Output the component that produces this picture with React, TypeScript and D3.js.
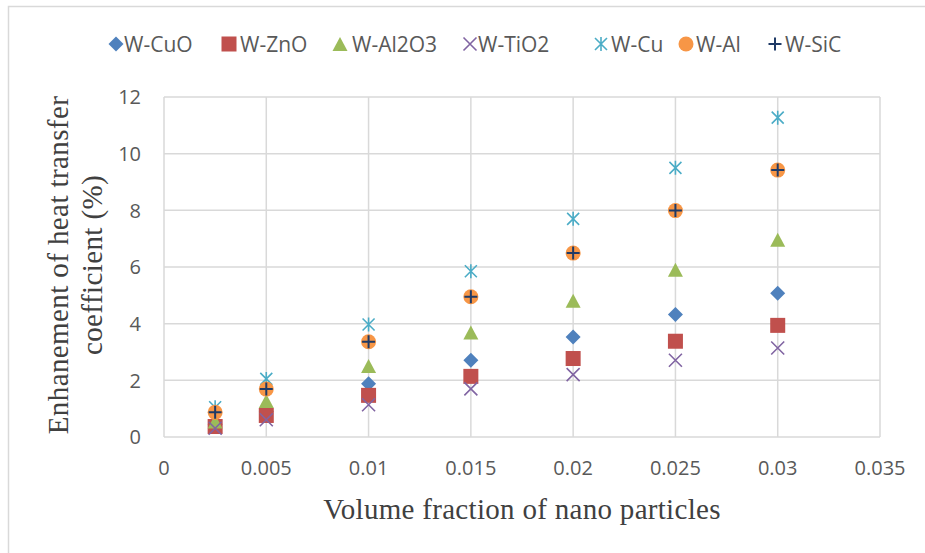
import React from "react";
import * as d3 from "d3";

const xValues = [0.0025, 0.005, 0.01, 0.015, 0.02, 0.025, 0.03];
const cuo = [0.45, 0.9, 1.88, 2.71, 3.53, 4.32, 5.07];
const zno = [0.37, 0.76, 1.47, 2.14, 2.77, 3.38, 3.94];
const al2o3 = [0.55, 1.27, 2.51, 3.69, 4.81, 5.9, 6.96];
const tio2 = [0.31, 0.61, 1.14, 1.7, 2.2, 2.71, 3.14];
const cu = [1.05, 2.05, 3.97, 5.85, 7.7, 9.5, 11.27];
const al = [0.87, 1.69, 3.36, 4.95, 6.49, 7.99, 9.42];
const sic = [0.87, 1.69, 3.36, 4.95, 6.49, 7.99, 9.42];

const xTicks = [0, 0.005, 0.01, 0.015, 0.02, 0.025, 0.03, 0.035];
const yTicks = [0, 2, 4, 6, 8, 10, 12];

type Shape = "diamond" | "square" | "triangle" | "x" | "star" | "circle" | "plus";
const series: { name: string; values: number[]; color: string; shape: Shape }[] = [
  { name: "W-CuO", values: cuo, color: "#4F81BD", shape: "diamond" },
  { name: "W-ZnO", values: zno, color: "#C0504D", shape: "square" },
  { name: "W-Al2O3", values: al2o3, color: "#9BBB59", shape: "triangle" },
  { name: "W-TiO2", values: tio2, color: "#8064A2", shape: "x" },
  { name: "W-Cu", values: cu, color: "#4BACC6", shape: "star" },
  { name: "W-Al", values: al, color: "#F79646", shape: "circle" },
  { name: "W-SiC", values: sic, color: "#1F3A66", shape: "plus" },
];

const legendMarkerX = [116, 229, 340, 470, 601, 686, 775];
const legendTextX = [124, 240, 352, 478, 611, 696, 785];

const W = 925;
const H = 553;
const plot = { left: 164, right: 880, top: 97, bottom: 437 };

function Marker({ shape, color, x, y }: { shape: Shape; color: string; x: number; y: number }) {
  switch (shape) {
    case "diamond":
      return <path d={`M${x},${y - 7.5}L${x + 7.5},${y}L${x},${y + 7.5}L${x - 7.5},${y}Z`} fill={color} />;
    case "square":
      return <rect x={x - 7.5} y={y - 7.5} width={15} height={15} fill={color} />;
    case "triangle":
      return <path d={`M${x},${y - 7}L${x + 7.5},${y + 7}L${x - 7.5},${y + 7}Z`} fill={color} />;
    case "x":
      return (
        <path d={`M${x - 6.5},${y - 6.5}L${x + 6.5},${y + 6.5}M${x - 6.5},${y + 6.5}L${x + 6.5},${y - 6.5}`} stroke={color} strokeWidth={1.6} fill="none" />
      );
    case "star":
      return (
        <path
          d={`M${x - 6},${y - 6}L${x + 6},${y + 6}M${x - 6},${y + 6}L${x + 6},${y - 6}M${x},${y - 7}L${x},${y + 7}`}
          stroke={color}
          strokeWidth={1.6}
          fill="none"
        />
      );
    case "circle":
      return <circle cx={x} cy={y} r={7.5} fill={color} />;
    case "plus":
      return <path d={`M${x - 6.5},${y}L${x + 6.5},${y}M${x},${y - 6.5}L${x},${y + 6.5}`} stroke={color} strokeWidth={2} fill="none" />;
  }
  return null;
}

export default function App() {
  const x = d3.scaleLinear().domain([0, 0.035]).range([plot.left, plot.right]);
  const y = d3.scaleLinear().domain([0, 12]).range([plot.bottom, plot.top]);
  const grid = "#D9D9D9";
  const tickColor = "#595959";
  const titleColor = "#404040";
  const cy = (plot.top + plot.bottom) / 2;

  return (
    <svg width={W} height={H} style={{ position: "absolute", left: 0, top: 0, background: "#fff" }}>
      <rect x={8.5} y={6.5} width={1000} height={1000} fill="#fff" stroke={grid} strokeWidth={1.5} />
      {/* gridlines */}
      {yTicks.map((t) => (
        <line key={"gy" + t} x1={plot.left} x2={plot.right} y1={y(t)} y2={y(t)} stroke={grid} strokeWidth={1.5} />
      ))}
      {xTicks.map((t) => (
        <line key={"gx" + t} x1={x(t)} x2={x(t)} y1={plot.top} y2={plot.bottom} stroke={grid} strokeWidth={1.5} />
      ))}
      {/* tick labels */}
      {yTicks.map((t) => (
        <text key={"ty" + t} x={141} y={y(t)} dy="0.36em" textAnchor="end" fontFamily="Open Sans" fontSize={20} fill={tickColor}>
          {t}
        </text>
      ))}
      {xTicks.map((t) => (
        <text key={"tx" + t} x={x(t)} y={475} textAnchor="middle" fontFamily="Open Sans" fontSize={20} fill={tickColor}>
          {String(t)}
        </text>
      ))}
      {/* axis titles */}
      <text x={(plot.left + plot.right) / 2} y={519} textAnchor="middle" fontFamily="Liberation Serif" fontSize={29} letterSpacing={0.3} fill={titleColor}>
        Volume fraction of nano particles
      </text>
      <g transform={`translate(68,${cy - 2}) rotate(-90)`}>
        <text x={0} y={0} textAnchor="middle" fontFamily="Liberation Serif" fontSize={29} letterSpacing={0.4} fill={titleColor}>
          Enhanement of heat transfer
        </text>
        <text x={0} y={34} textAnchor="middle" fontFamily="Liberation Serif" fontSize={29} letterSpacing={0.4} fill={titleColor}>
          coefficient (%)
        </text>
      </g>
      {/* points */}
      {series.map((s) => (
        <g key={s.name}>
          {s.values.map((v, i) => (
            <Marker key={i} shape={s.shape} color={s.color} x={x(xValues[i])} y={y(v)} />
          ))}
        </g>
      ))}
      {/* legend */}
      {series.map((s, i) => (
        <g key={"lg" + s.name}>
          <Marker shape={s.shape} color={s.color} x={legendMarkerX[i]} y={44} />
          <text x={legendTextX[i]} y={44} dy="0.36em" fontFamily="Open Sans" fontSize={21} fill={tickColor}>
            {s.name}
          </text>
        </g>
      ))}
    </svg>
  );
}
